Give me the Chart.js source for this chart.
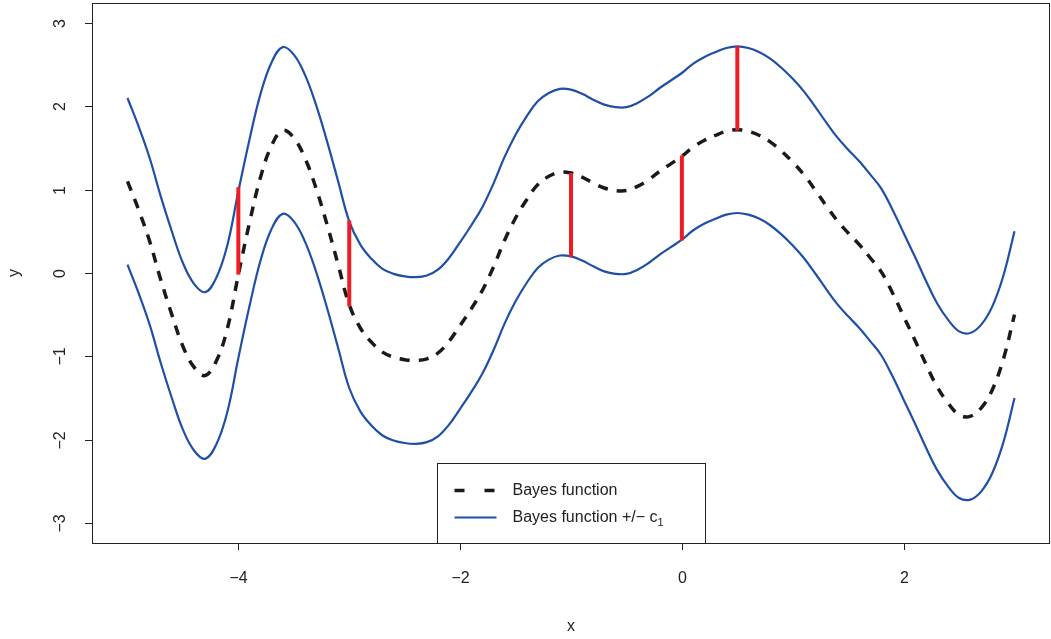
<!DOCTYPE html>
<html>
<head>
<meta charset="utf-8">
<script src="https://cdn.jsdelivr.net/npm/chart.js@4.4.1/dist/chart.umd.min.js"></script>
<style>
  html, body { margin: 0; padding: 0; background: #fff; }
  #wrap { width: 1051px; height: 639px; }
</style>
</head>
<body>
<div id="wrap"><canvas id="chart"></canvas></div>
<script>
const xs = [
  -5.0, -4.9, -4.8, -4.7, -4.6, -4.5, -4.4, -4.3, -4.2, -4.1,
  -4.0, -3.9, -3.8, -3.7, -3.6, -3.5, -3.4, -3.3, -3.2, -3.1,
  -3.0, -2.9, -2.8, -2.7, -2.6, -2.5, -2.4, -2.3, -2.2, -2.1,
  -2.0, -1.9, -1.8, -1.7, -1.6, -1.5, -1.4, -1.3, -1.2, -1.1,
  -1.0, -0.9, -0.8, -0.7, -0.6, -0.5, -0.4, -0.3, -0.2, -0.1,
  0.0, 0.1, 0.2, 0.3, 0.4, 0.5, 0.6, 0.7, 0.8, 0.9,
  1.0, 1.1, 1.2, 1.3, 1.4, 1.5, 1.6, 1.7, 1.8, 1.9,
  2.0, 2.1, 2.2, 2.3, 2.4, 2.5, 2.6, 2.7, 2.8, 2.9,
  3.0,
];
// Bayes function (dashed black)
const bayes = [
  1.10, 0.76, 0.38, -0.08, -0.50, -0.88, -1.13, -1.23, -1.06, -0.67,
  -0.02, 0.60, 1.15, 1.53, 1.71, 1.62, 1.38, 1.02, 0.58, 0.10,
  -0.38, -0.66, -0.83, -0.95, -1.01, -1.04, -1.05, -1.03, -0.96, -0.82,
  -0.63, -0.43, -0.21, 0.07, 0.39, 0.66, 0.88, 1.06, 1.16, 1.21,
  1.20, 1.15, 1.08, 1.02, 0.99, 0.99, 1.04, 1.12, 1.22, 1.31,
  1.40, 1.51, 1.59, 1.65, 1.70, 1.72, 1.70, 1.65, 1.57, 1.46,
  1.33, 1.18, 1.00, 0.81, 0.63, 0.48, 0.34, 0.18, 0.01, -0.24,
  -0.52, -0.80, -1.09, -1.36, -1.56, -1.70, -1.72, -1.62, -1.40, -1.03,
  -0.50,
];
// band half-width
const c1 = 1;

// red segments: observation -> Bayes function
const obsX = [-4, -3, -1, 0, 0.5];
const obsY = [1.03, 0.63, 0.19, 0.39, 2.72];
const fitAtObs = [-0.02, -0.4, 1.2, 1.41, 1.71];

const xTicks = [-4, -2, 0, 2];
const yTicks = [-3, -2, -1, 0, 1, 2, 3];
const tickText = (v) => (v < 0 ? "\u2212" + Math.abs(v) : String(v));

const FONT = '"Liberation Sans", Arial, Helvetica, sans-serif';
const BLUE = "#1f4fa6";
const RED = "#ee1c25";

const upper = bayes.map((v) => v + c1);
const lower = bayes.map((v) => v - c1);
const pts = (ys) => xs.map((x, i) => ({ x: x, y: ys[i] }));

const segments = obsX.map((x, i) => ({
  data: [
    { x: x, y: fitAtObs[i] },
    { x: x, y: obsY[i] },
  ],
  borderColor: RED,
  borderWidth: 4,
  pointRadius: 0,
  tension: 0,
  order: 0,
}));

// R-style frame, ticks, labels and legend
const baseGraphics = {
  id: "baseGraphics",
  afterDraw(chart) {
    const ctx = chart.ctx;
    const a = chart.chartArea;
    const sx = chart.scales.x;
    const sy = chart.scales.y;
    ctx.save();
    ctx.strokeStyle = "#222";
    ctx.lineWidth = 1;
    ctx.strokeRect(a.left + 0.5, a.top + 0.5, a.right - a.left - 1, a.bottom - a.top);

    ctx.fillStyle = "#222";
    ctx.font = "16px " + FONT;
    ctx.textAlign = "center";
    ctx.textBaseline = "middle";
    xTicks.forEach((v) => {
      const px = Math.round(sx.getPixelForValue(v)) + 0.5;
      ctx.beginPath();
      ctx.moveTo(px, a.bottom);
      ctx.lineTo(px, a.bottom + 7);
      ctx.stroke();
      ctx.fillText(tickText(v), px, a.bottom + 36);
    });
    yTicks.forEach((v) => {
      const py = Math.round(sy.getPixelForValue(v)) + 0.5;
      ctx.beginPath();
      ctx.moveTo(a.left, py);
      ctx.lineTo(a.left - 7, py);
      ctx.stroke();
      ctx.save();
      ctx.translate(a.left - 31, py);
      ctx.rotate(-Math.PI / 2);
      ctx.fillText(tickText(v), 0, 0);
      ctx.restore();
    });

    // axis titles
    ctx.fillText("x", (a.left + a.right) / 2, a.bottom + 84);
    ctx.save();
    ctx.translate(15, (a.top + a.bottom) / 2);
    ctx.rotate(-Math.PI / 2);
    ctx.fillText("y", 0, 0);
    ctx.restore();

    // legend at bottom centre
    const lw = 268, lh = 80;
    const lx = Math.round((a.left + a.right) / 2 - lw / 2) + 0.5;
    const ly = a.bottom - lh + 0.5;
    ctx.fillStyle = "#fff";
    ctx.fillRect(lx, ly, lw, lh);
    ctx.strokeStyle = "#222";
    ctx.strokeRect(lx, ly, lw, lh);

    const r1 = ly + 27, r2 = ly + 54;
    ctx.lineWidth = 3.5;
    ctx.strokeStyle = "#1a1a1a";
    ctx.setLineDash([10, 20]);
    ctx.beginPath();
    ctx.moveTo(lx + 17, r1);
    ctx.lineTo(lx + 59, r1);
    ctx.stroke();
    ctx.setLineDash([]);
    ctx.lineWidth = 2.2;
    ctx.strokeStyle = BLUE;
    ctx.beginPath();
    ctx.moveTo(lx + 17, r2);
    ctx.lineTo(lx + 59, r2);
    ctx.stroke();

    ctx.fillStyle = "#222";
    ctx.textAlign = "left";
    ctx.font = "16px " + FONT;
    ctx.fillText("Bayes function", lx + 75, r1);
    const s = "Bayes function +/\u2212 c";
    ctx.fillText(s, lx + 75, r2);
    const w = ctx.measureText(s).width;
    ctx.font = "11px " + FONT;
    ctx.fillText("1", lx + 75 + w, r2 + 5);
    ctx.restore();
  },
};

new Chart(document.getElementById("chart"), {
  type: "line",
  data: {
    datasets: [
      ...segments,
      {
        label: "Bayes function",
        data: pts(bayes),
        borderColor: "#1a1a1a",
        borderWidth: 3.5,
        borderDash: [10, 9],
        pointRadius: 0,
        tension: 0.4,
        order: 1,
      },
      {
        label: "Bayes function +/- c1",
        data: pts(upper),
        borderColor: BLUE,
        borderWidth: 2.2,
        pointRadius: 0,
        tension: 0.4,
        order: 2,
      },
      {
        label: "lower",
        data: pts(lower),
        borderColor: BLUE,
        borderWidth: 2.2,
        pointRadius: 0,
        tension: 0.4,
        order: 2,
      },
    ],
  },
  options: {
    responsive: true,
    maintainAspectRatio: false,
    animation: false,
    layout: { padding: { left: 92, right: 1, top: 3, bottom: 96 } },
    plugins: { legend: { display: false }, tooltip: { enabled: false } },
    scales: {
      x: { type: "linear", min: -5.32, max: 3.32, display: false },
      y: { type: "linear", min: -3.24, max: 3.24, display: false },
    },
  },
  plugins: [baseGraphics],
});
</script>
</body>
</html>
